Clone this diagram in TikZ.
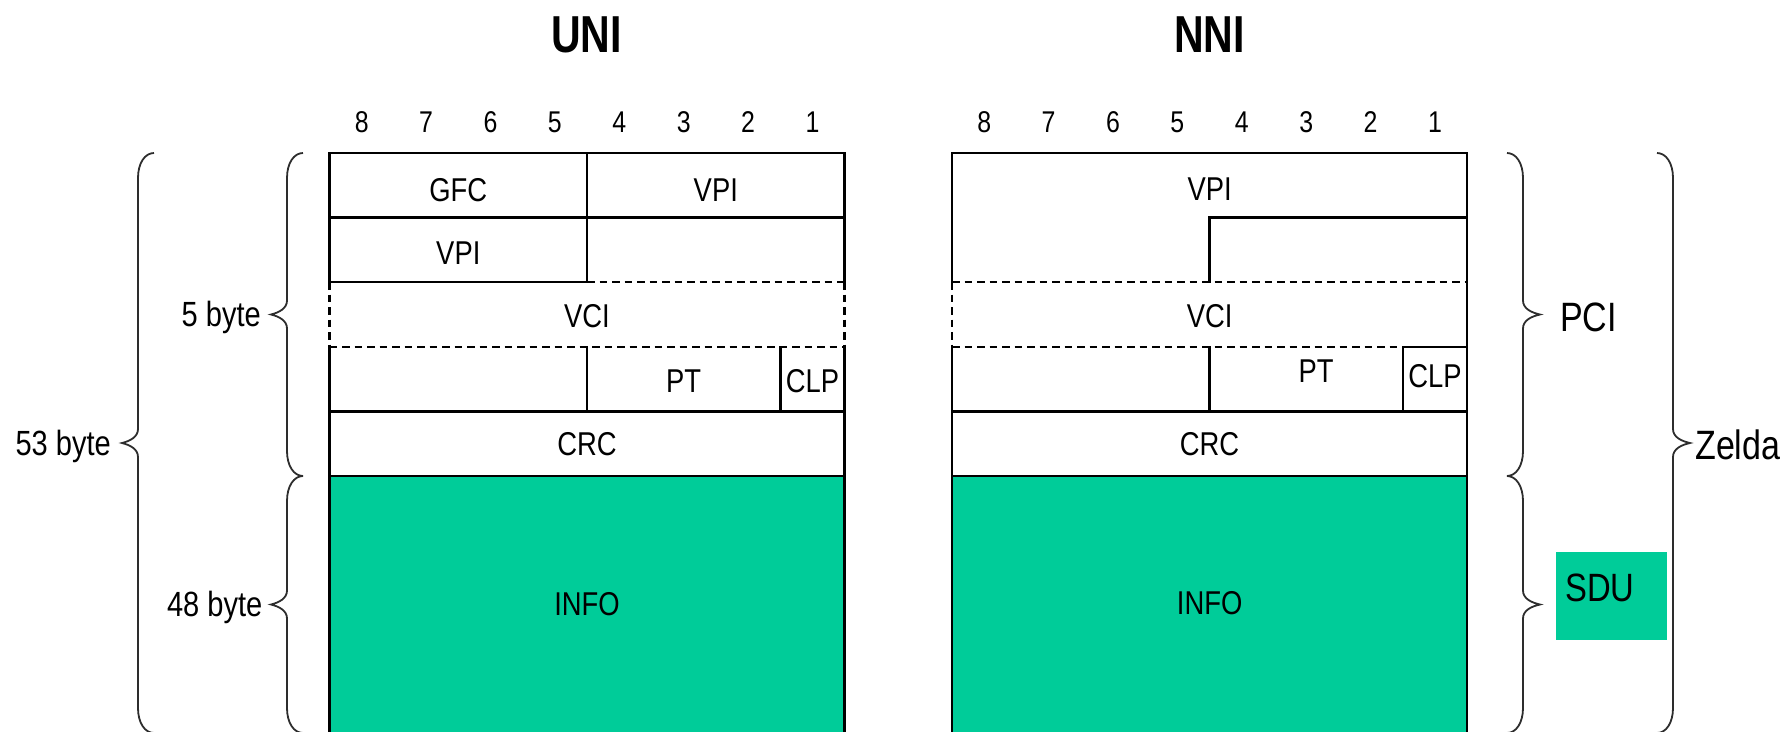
\documentclass[tikz,border=0pt]{standalone}
\usepackage{fontspec}
\setmainfont{Liberation Sans}[FakeStretch=0.83]
\newfontfamily\titlefont{Liberation Sans}[FakeStretch=0.79]
\definecolor{cellgreen}{RGB}{0,204,153}
\definecolor{bracegray}{RGB}{45,45,45}

% curly brace whose tip points left: #1 spine x, #2 top y, #3 bottom y
\newcommand\bracetipleft[3]{%
  \draw[bracestroke] ({#1+16},#2) .. controls ({#1+7},#2) and (#1,{#2+10}) .. (#1,{#2+25})
    -- (#1,{(#2+#3)/2-14}) .. controls (#1,{(#2+#3)/2-6}) and ({#1-8},{(#2+#3)/2-2}) .. ({#1-16},{(#2+#3)/2})
    .. controls ({#1-8},{(#2+#3)/2+2}) and (#1,{(#2+#3)/2+6}) .. (#1,{(#2+#3)/2+14})
    -- (#1,{#3-25}) .. controls (#1,{#3-10}) and ({#1+7},#3) .. ({#1+16},#3);}
% curly brace whose tip points right
\newcommand\bracetipright[3]{%
  \draw[bracestroke] ({#1-16},#2) .. controls ({#1-7},#2) and (#1,{#2+10}) .. (#1,{#2+25})
    -- (#1,{(#2+#3)/2-14}) .. controls (#1,{(#2+#3)/2-6}) and ({#1+8},{(#2+#3)/2-2}) .. ({#1+17},{(#2+#3)/2})
    .. controls ({#1+8},{(#2+#3)/2+2}) and (#1,{(#2+#3)/2+6}) .. (#1,{(#2+#3)/2+14})
    -- (#1,{#3-25}) .. controls (#1,{#3-10}) and ({#1-7},#3) .. ({#1-16},#3);}

\begin{document}
\begin{tikzpicture}[x=1pt,y=-1pt,
  rule/.style={line width=2.4pt,line cap=rect},
  dashrule/.style={line width=2.2pt,dash pattern=on 7.5pt off 5pt},
  bracestroke/.style={line width=1.8pt,draw=bracegray},
  headtitle/.style={font=\titlefont\bfseries\fontsize{52}{60}\selectfont,anchor=base,inner sep=0pt},
  bitnum/.style={font=\fontsize{30}{36}\selectfont,anchor=base,inner sep=0pt},
  field/.style={font=\fontsize{33}{40}\selectfont,anchor=base,inner sep=0pt},
  sizelabel/.style={font=\fontsize{35}{42}\selectfont,anchor=base east,inner sep=0pt},
  partlabel/.style={font=\fontsize{41}{48}\selectfont,anchor=base west,inner sep=0pt}]
\useasboundingbox (0,0) rectangle (1783,731);
\clip (0,0) rectangle (1783,731);

% headings and bit numbers
\node[headtitle] (uni) at (586.7,52.2) {UNI};
\node[headtitle] (nni) at (1209.6,52.2) {NNI};
\foreach \i in {1,...,8} {
  \node[bitnum] (ub\i) at ({361.7+64.4*(8-\i)},132.8) {\i};
  \node[bitnum] (nb\i) at ({984.2+64.4*(8-\i)},132.8) {\i};
}

% payload areas
\fill[cellgreen] (329.5,476) rectangle (844.5,740);
\fill[cellgreen] (952,476) rectangle (1467,740);

% UNI cell header
\draw[rule] (329.5,282.2) -- (329.5,153) -- (844.5,153) -- (844.5,282.2);
\draw[dashrule] (329.5,282.2) -- (329.5,346.8) (844.5,282.2) -- (844.5,346.8);
\draw[rule] (329.5,346.8) -- (329.5,740) (844.5,346.8) -- (844.5,740);
\draw[rule] (329.5,217.6) -- (844.5,217.6);
\draw[rule] (587.1,153) -- (587.1,282.2) -- (329.5,282.2);
\draw[dashrule] (587.1,282.2) -- (844.5,282.2);
\draw[dashrule] (329.5,346.8) -- (844.5,346.8);
\draw[rule] (587.1,346.8) -- (587.1,411.4) (780.3,346.8) -- (780.3,411.4);
\draw[rule] (329.5,411.4) -- (844.5,411.4) (329.5,476) -- (844.5,476);

% NNI cell header
\draw[rule] (952,282.2) -- (952,153) -- (1467,153) -- (1467,740);
\draw[dashrule] (952,282.2) -- (952,346.8);
\draw[rule] (952,346.8) -- (952,740);
\draw[rule] (1467,217.6) -- (1209.6,217.6) -- (1209.6,282.2);
\draw[dashrule] (952,282.2) -- (1467,282.2);
\draw[dashrule] (952,346.8) -- (1402.8,346.8);
\draw[rule] (1402.8,411.4) -- (1402.8,346.8) -- (1467,346.8);
\draw[rule] (1209.6,346.8) -- (1209.6,411.4);
\draw[rule] (952,411.4) -- (1467,411.4) (952,476) -- (1467,476);

% UNI field names
\node[field] (ugfc)  at (458.3,201.5) {GFC};
\node[field] (uvpia) at (715.8,201.5) {VPI};
\node[field] (uvpib) at (458.3,264) {VPI};
\node[field] (uvci)  at (587,327) {VCI};
\node[field] (upt)   at (683.7,392) {PT};
\node[field] (uclp)  at (812.4,392) {CLP};
\node[field] (ucrc)  at (587,455.5) {CRC};
\node[field] (uinfo) at (587,615.5) {INFO};

% NNI field names
\node[field] (nvpi)  at (1209.6,200) {VPI};
\node[field] (nvci)  at (1209.6,327) {VCI};
\node[field] (npt)   at (1316,382) {PT};
\node[field] (nclp)  at (1434.9,387.5) {CLP};
\node[field] (ncrc)  at (1209.6,455) {CRC};
\node[field] (ninfo) at (1209.6,614) {INFO};

% left braces and sizes
\bracetipleft{138}{153}{733}
\bracetipleft{287}{153}{476}
\bracetipleft{287}{476}{733}
\node[sizelabel] (tot)  at (111,455) {53 byte};
\node[sizelabel] (hdr)  at (261,326.8) {5 byte};
\node[sizelabel] (pay)  at (262.5,616.8) {48 byte};

% right braces and names
\bracetipright{1523}{153}{476}
\bracetipright{1523}{476}{733}
\bracetipright{1673}{153}{733}
\node[partlabel] (pci) at (1560,331.7) {PCI};
\node[partlabel] (cell) at (1695,459.2) {Zelda};
\fill[cellgreen] (1555.7,552.3) rectangle (1666.7,640);
\node[partlabel,font=\fontsize{39.5}{46}\selectfont] (sdu) at (1565,601.7) {SDU};
\end{tikzpicture}
\end{document}
